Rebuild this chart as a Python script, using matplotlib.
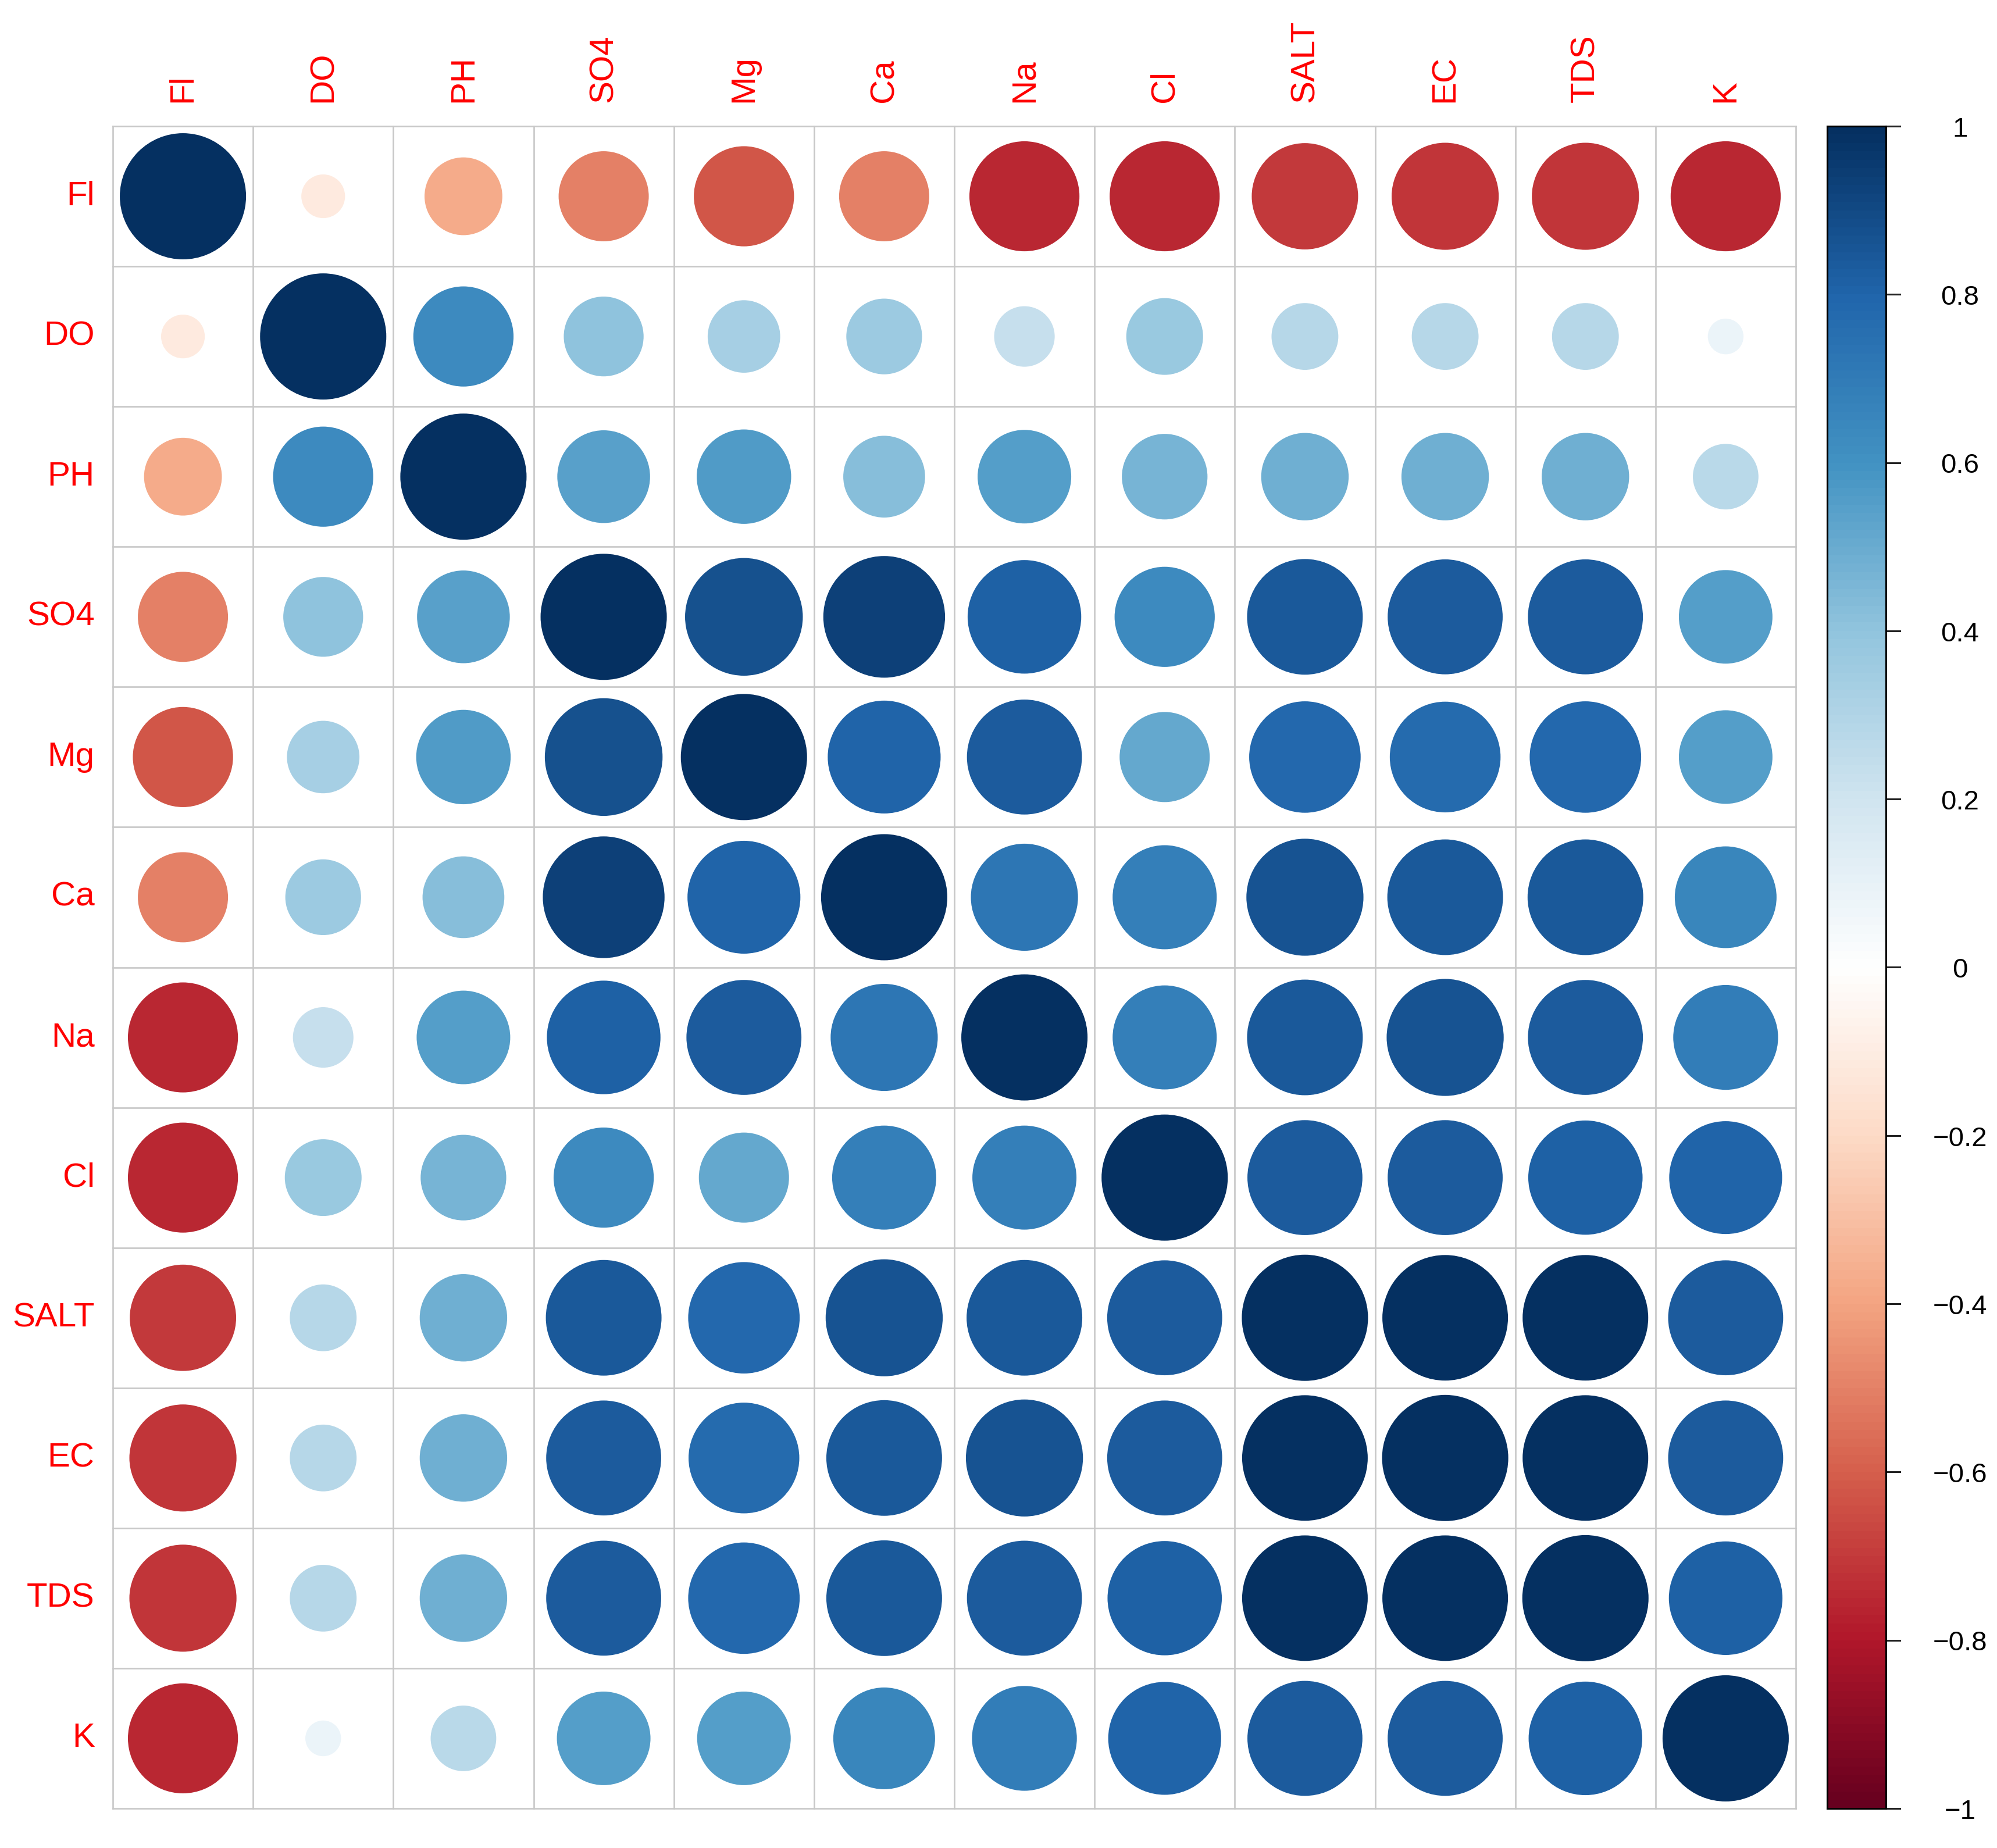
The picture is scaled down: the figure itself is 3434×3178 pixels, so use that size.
import numpy as np
import matplotlib.pyplot as plt
from matplotlib.colors import LinearSegmentedColormap
from matplotlib.patches import Circle

plt.rcParams['font.family'] = ['Liberation Sans', 'DejaVu Sans']

# variable names (row / column order)
variables = ['Fl', 'DO', 'PH', 'SO4', 'Mg', 'Ca', 'Na', 'Cl', 'SALT', 'EC', 'TDS', 'K']

# correlation rows
fl_row = [1.00, -0.12, -0.38, -0.51, -0.63, -0.51, -0.76, -0.76, -0.71, -0.72, -0.72, -0.76]
do_row = [-0.12, 1.00, 0.63, 0.40, 0.33, 0.36, 0.23, 0.37, 0.28, 0.28, 0.28, 0.08]
ph_row = [-0.38, 0.63, 1.00, 0.54, 0.56, 0.42, 0.55, 0.46, 0.48, 0.48, 0.48, 0.27]
so4_row = [-0.51, 0.40, 0.54, 1.00, 0.87, 0.93, 0.81, 0.63, 0.84, 0.83, 0.83, 0.55]
mg_row = [-0.63, 0.33, 0.56, 0.87, 1.00, 0.80, 0.83, 0.51, 0.78, 0.77, 0.78, 0.55]
ca_row = [-0.51, 0.36, 0.42, 0.93, 0.80, 1.00, 0.72, 0.68, 0.86, 0.84, 0.84, 0.65]
na_row = [-0.76, 0.23, 0.55, 0.81, 0.83, 0.72, 1.00, 0.68, 0.84, 0.86, 0.83, 0.69]
cl_row = [-0.76, 0.37, 0.46, 0.63, 0.51, 0.68, 0.68, 1.00, 0.83, 0.83, 0.82, 0.80]
salt_row = [-0.71, 0.28, 0.48, 0.84, 0.78, 0.86, 0.84, 0.83, 1.00, 0.99, 0.99, 0.83]
ec_row = [-0.72, 0.28, 0.48, 0.83, 0.77, 0.84, 0.86, 0.83, 0.99, 1.00, 0.99, 0.83]
tds_row = [-0.72, 0.28, 0.48, 0.83, 0.78, 0.84, 0.83, 0.82, 0.99, 0.99, 1.00, 0.81]
k_row = [-0.76, 0.08, 0.27, 0.55, 0.55, 0.65, 0.69, 0.80, 0.83, 0.83, 0.81, 1.00]

colorbar_ticks = [1, 0.8, 0.6, 0.4, 0.2, 0, -0.2, -0.4, -0.6, -0.8, -1]

corr = np.array([fl_row, do_row, ph_row, so4_row, mg_row, ca_row,
                 na_row, cl_row, salt_row, ec_row, tds_row, k_row])

# corrplot RdBu palette
rdbu = ['#67001F', '#B2182B', '#D6604D', '#F4A582', '#FDDBC7', '#FFFFFF',
        '#D1E5F0', '#92C5DE', '#4393C3', '#2166AC', '#053061']
cmap = LinearSegmentedColormap.from_list('corr_rdbu', rdbu, N=200)

W, H = 3434, 3178
fig = plt.figure(figsize=(W / 100, H / 100), dpi=100)

# main matrix
left, right, top, bottom = 194, 3088, 217, 3110
ax = fig.add_axes([left / W, 1 - bottom / H, (right - left) / W, (bottom - top) / H])
n = len(variables)
ax.set_xlim(0, n)
ax.set_ylim(n, 0)
ax.axis('off')

for i in range(n):
    for j in range(n):
        r = corr[i, j]
        rad = 0.45 * np.sqrt(abs(r))
        ax.add_patch(Circle((j + 0.5, i + 0.5), rad, facecolor=cmap((r + 1) / 2),
                            edgecolor='none'))

for k in range(n + 1):
    ax.plot([k, k], [0, n], color='#C8C8C8', lw=1.9, clip_on=False, zorder=3)
    ax.plot([0, n], [k, k], color='#C8C8C8', lw=1.9, clip_on=False, zorder=3)

for i, name in enumerate(variables):
    ax.text(-0.13, i + 0.5, name, color='#FF0000', fontsize=42,
            ha='right', va='center')
    ax.text(i + 0.5, -0.17, name, color='#FF0000', fontsize=42,
            ha='center', va='bottom', rotation=90)

# colour legend
cb_left, cb_right = 3142, 3243
cax = fig.add_axes([cb_left / W, 1 - bottom / H, (cb_right - cb_left) / W, (bottom - top) / H])
grad = np.linspace(-1, 1, 200).reshape(-1, 1)
cax.imshow(grad, cmap=cmap, vmin=-1, vmax=1, aspect='auto', origin='lower',
           extent=[0, 1, -1, 1])
cax.set_xlim(0, 1)
cax.set_ylim(-1, 1)
cax.set_xticks([])
cax.set_yticks([])
for sp in cax.spines.values():
    sp.set_linewidth(2.2)
    sp.set_color('black')

for v in colorbar_ticks:
    cax.plot([1, 1.24], [v, v], color='#222222', lw=2.2, clip_on=False)
    label = '{:g}'.format(v).replace('-', '\u2212')
    cax.text(2.26, v - 0.004, label, fontsize=34, color='black',
             ha='center', va='center')

fig.savefig('out.png', dpi=100)
